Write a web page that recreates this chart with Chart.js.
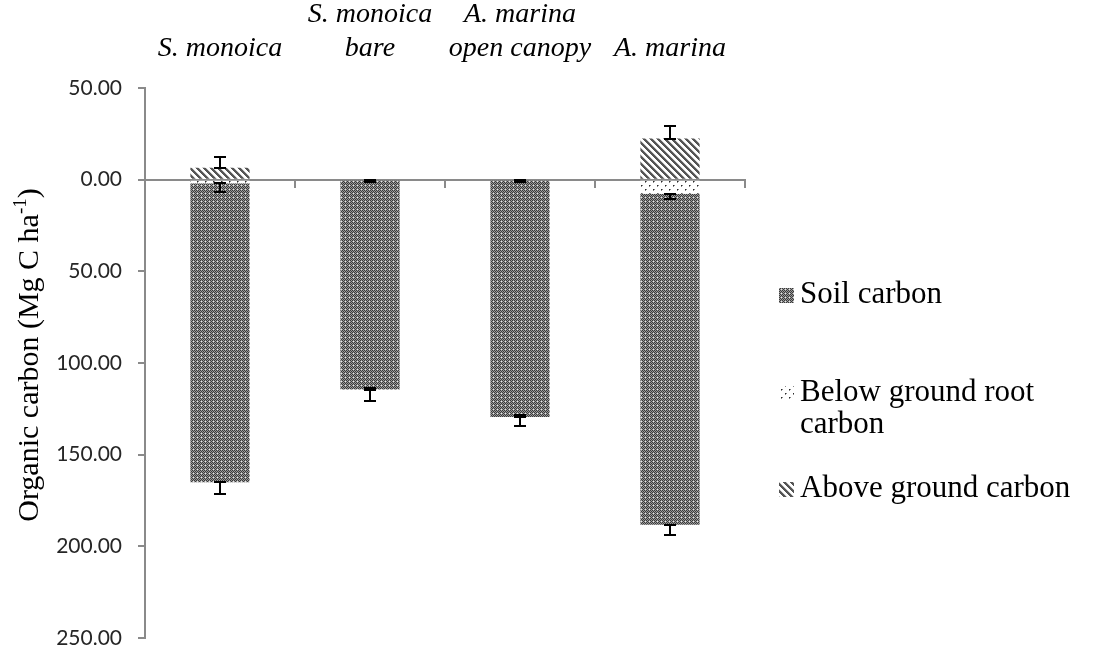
<!DOCTYPE html>
<html>
<head>
<meta charset="utf-8">
<title>Organic carbon stocks</title>
<script src="https://cdn.jsdelivr.net/npm/chart.js@4.4.1/dist/chart.umd.min.js"></script>
<style>
  html, body { margin: 0; padding: 0; background: #ffffff; }
  #wrap { width: 1119px; height: 652px; }
</style>
</head>
<body>
<div id="wrap"><canvas id="chart" width="1119" height="652"></canvas></div>
<script>
// Sites (multi-line category labels)
const categories = [
  ['S. monoica'],
  ['S. monoica', 'bare'],
  ['A. marina', 'open canopy'],
  ['A. marina']
];

// Carbon pools, Mg C per hectare (magnitudes; soil and roots are plotted below zero)
const soilCarbon      = [163.0, 114.5, 129.5, 180.5];
const soilCarbonErr   = [6.5, 6.0, 5.0, 5.5];
const rootCarbon      = [2.0, 0.0, 0.0, 7.7];
const rootCarbonErr   = [5.0, 1.0, 1.0, 3.0];
const aboveCarbon     = [6.5, 0.0, 0.0, 22.4];
const aboveCarbonErr  = [5.9, 1.0, 1.0, 7.1];

const seriesNames = ['Soil carbon', 'Below ground root carbon', 'Above ground carbon'];
const legendLines = [['Soil carbon'], ['Below ground root', 'carbon'], ['Above ground carbon']];

// Value axis: above-ground pool upward, below-ground pools downward
const yMin = -250, yMax = 50, yStep = 50;

const canvas = document.getElementById('chart');
const ctx = canvas.getContext('2d');

function makePattern(size, paint) {
  const c = document.createElement('canvas');
  c.width = size; c.height = size;
  paint(c.getContext('2d'), size);
  return ctx.createPattern(c, 'repeat');
}

// fine dark/grey checker with small light points
const soilFill = makePattern(4, (g, s) => {
  for (let y = 0; y < s; y++) {
    for (let x = 0; x < s; x++) {
      g.fillStyle = ((x + y) % 2 === 0) ? '#3a3a3a' : '#9a9a9a';
      if (x === 1 && y === 1) g.fillStyle = '#e6e6e6';
      g.fillRect(x, y, 1, 1);
    }
  }
});

// staggered dots on white
const rootFill = makePattern(8, (g, s) => {
  g.fillStyle = '#ffffff';
  g.fillRect(0, 0, s, s);
  g.fillStyle = '#2a2a2a';
  g.fillRect(1, 1, 1, 1);
  g.fillRect(5, 5, 1, 1);
  g.fillStyle = '#8a8a8a';
  g.fillRect(2, 1, 1, 1);
  g.fillRect(6, 5, 1, 1);
  g.fillRect(1, 2, 1, 1);
  g.fillRect(5, 6, 1, 1);
});

// diagonal hatching running down to the right
const aboveFill = makePattern(7, (g, s) => {
  for (let y = 0; y < s; y++) {
    for (let x = 0; x < s; x++) {
      const d = ((x - y) % s + s) % s;
      g.fillStyle = d < 3 ? '#555555' : (d === 3 ? '#c8c8c8' : '#ffffff');
      g.fillRect(x, y, 1, 1);
    }
  }
});

const fills = { soil: soilFill, root: rootFill, above: aboveFill };

const serif = "'Liberation Serif', 'Times New Roman', serif";
const axisGrey = '#8a8a8a';

// Error bars drawn from the outer end of each stacked segment, capped at both ends
const errorBarPlugin = {
  id: 'errorBars',
  afterDraw(chart) {
    const y = chart.scales.y;
    const c = chart.ctx;
    c.save();
    c.strokeStyle = '#000000';
    c.lineWidth = 2;
    chart.data.datasets.forEach((ds, di) => {
      const meta = chart.getDatasetMeta(di);
      meta.data.forEach((bar, i) => {
        const endVal = y.getValueForPixel(bar.y);
        const tipVal = endVal + ds.errDir * ds.errors[i];
        const y0 = Math.round(bar.y);
        const y1 = Math.round(y.getPixelForValue(tipVal));
        const x = Math.round(bar.x);
        const half = 6;
        c.beginPath();
        c.moveTo(x, y0); c.lineTo(x, y1);
        c.moveTo(x - half, y0); c.lineTo(x + half, y0);
        c.moveTo(x - half, y1); c.lineTo(x + half, y1);
        c.stroke();
      });
    });
    c.restore();
  }
};

// Axis title with superscript unit exponent
const axisTitlePlugin = {
  id: 'axisTitle',
  afterDraw(chart) {
    const c = chart.ctx;
    const area = chart.chartArea;
    const main = 'Organic carbon (Mg C ha';
    const sup = '-1';
    const tail = ')';
    c.save();
    c.fillStyle = '#000000';
    c.textBaseline = 'alphabetic';
    c.textAlign = 'left';
    c.font = '30px ' + serif;
    const wMain = c.measureText(main).width;
    const wTail = c.measureText(tail).width;
    c.font = '19px ' + serif;
    const wSup = c.measureText(sup).width;
    const total = wMain + wSup + wTail;
    const cx = 38;
    const cy = (area.top + area.bottom) / 2 - 8;
    c.translate(cx, cy);
    c.rotate(-Math.PI / 2);
    let x = -total / 2;
    c.font = '30px ' + serif;
    c.fillText(main, x, 0);
    x += wMain;
    c.font = '19px ' + serif;
    c.fillText(sup, x, -12);
    x += wSup;
    c.font = '30px ' + serif;
    c.fillText(tail, x, 0);
    c.restore();
  }
};

// Legend on the right with patterned swatches and wrapped labels
const legendPlugin = {
  id: 'sideLegend',
  afterDraw(chart) {
    const c = chart.ctx;
    const area = chart.chartArea;
    const swatchX = area.right + 34;
    const textX = swatchX + 21;
    const rowTops = [area.top + 207, area.top + 305, area.top + 401];
    const lineH = 32;
    const swatchFills = [fills.soil, fills.root, fills.above];
    c.save();
    c.font = '31px ' + serif;
    c.textBaseline = 'middle';
    c.textAlign = 'left';
    legendLines.forEach((lines, k) => {
      const y0 = rowTops[k];
      c.fillStyle = swatchFills[k];
      c.fillRect(swatchX, y0 - 7, 15, 15);
      c.fillStyle = '#000000';
      lines.forEach((t, j) => c.fillText(t, textX, y0 + j * lineH));
    });
    c.restore();
  }
};

const chart = new Chart(ctx, {
  type: 'bar',
  data: {
    labels: categories,
    datasets: [
      {
        label: seriesNames[1],
        data: rootCarbon.map(v => -v),
        errors: rootCarbonErr, errDir: -1,
        backgroundColor: fills.root
      },
      {
        label: seriesNames[0],
        data: soilCarbon.map(v => -v),
        errors: soilCarbonErr, errDir: -1,
        backgroundColor: fills.soil
      },
      {
        label: seriesNames[2],
        data: aboveCarbon,
        errors: aboveCarbonErr, errDir: 1,
        backgroundColor: fills.above
      }
    ]
  },
  options: {
    responsive: false,
    animation: false,
    devicePixelRatio: 1,
    layout: { padding: { left: 0, top: 0, right: 374, bottom: 14 } },
    datasets: { bar: { categoryPercentage: 1.0, barPercentage: 0.395, borderWidth: 0 } },
    plugins: {
      legend: { display: false },
      tooltip: { enabled: false },
      title: { display: false }
    },
    scales: {
      x: {
        type: 'category',
        position: 'top',
        stacked: true,
        offset: true,
        grid: { display: false, offset: true },
        border: { display: false },
        ticks: {
          maxRotation: 0,
          minRotation: 0,
          autoSkip: false,
          padding: 14,
          color: '#000000',
          font: { family: serif, size: 28, style: 'italic', lineHeight: '34px' }
        },
        afterFit(scale) { scale.height = 88; }
      },
      x2: {
        type: 'category',
        axis: 'x',
        position: { y: 0 },
        offset: true,
        z: 1,
        grid: {
          display: true, offset: true, drawOnChartArea: false, drawTicks: true,
          tickLength: 7, color: axisGrey, lineWidth: 2
        },
        border: { display: true, color: axisGrey, width: 2 },
        ticks: { display: false },
        afterFit(scale) { scale.height = 0; }
      },
      y: {
        type: 'linear',
        stacked: true,
        min: yMin,
        max: yMax,
        grid: {
          display: true, drawOnChartArea: false, drawTicks: true,
          tickLength: 7, color: axisGrey, lineWidth: 2
        },
        border: { display: true, color: axisGrey, width: 2 },
        ticks: {
          stepSize: yStep,
          padding: 16,
          color: '#262626',
          font: { family: "Lato, 'Open Sans', sans-serif", size: 21 },
          callback: (v) => Math.abs(v).toFixed(2)
        },
        afterFit(scale) {
          scale.width = 145;
          scale.paddingTop = 0;
          scale.paddingBottom = 0;
        }
      }
    }
  },
  plugins: [errorBarPlugin, axisTitlePlugin, legendPlugin]
});
</script>
</body>
</html>
